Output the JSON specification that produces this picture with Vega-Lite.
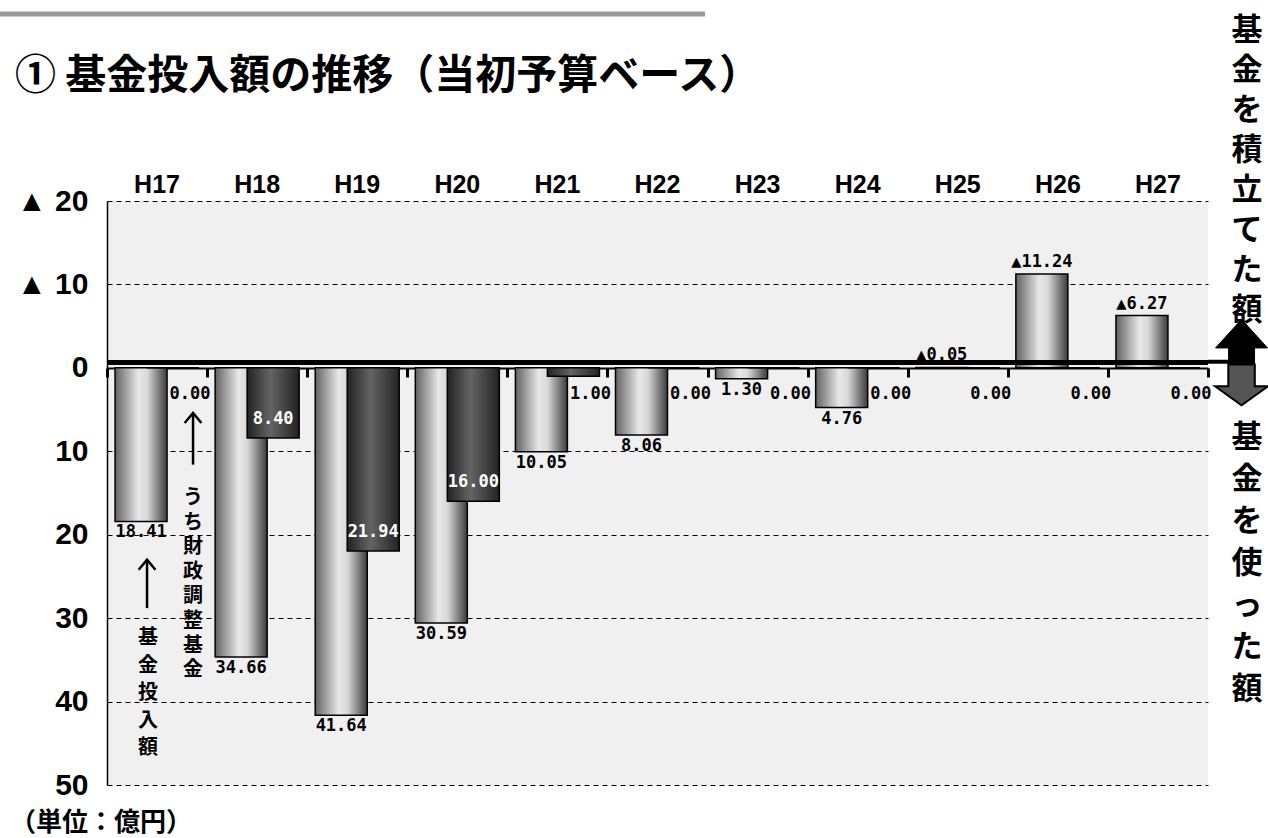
{
  "$schema": "https://vega.github.io/schema/vega-lite/v6.json",
  "width": 1101,
  "height": 584,
  "autosize": {"type": "none"},
  "padding": {"left": 107, "top": 201, "right": 60, "bottom": 53},
  "background": "white",
  "config": {"view": {"fill": "#f0f0f0", "stroke": null}, "font": "Noto Sans CJK JP"},
  "title": {
    "text": "① 基金投入額の推移（当初予算ベース）",
    "anchor": "start",
    "frame": "group",
    "dx": -92,
    "offset": -86,
    "font": "Noto Sans CJK JP",
    "fontSize": 41,
    "fontWeight": "bold",
    "color": "black"
  },
  "data": {
    "values": [
      {"year": "H17", "series": "基金投入額", "v": 18.41},
      {"year": "H17", "series": "うち財政調整基金", "v": 0},
      {"year": "H18", "series": "基金投入額", "v": 34.66},
      {"year": "H18", "series": "うち財政調整基金", "v": 8.40},
      {"year": "H19", "series": "基金投入額", "v": 41.64},
      {"year": "H19", "series": "うち財政調整基金", "v": 21.94},
      {"year": "H20", "series": "基金投入額", "v": 30.59},
      {"year": "H20", "series": "うち財政調整基金", "v": 16.00},
      {"year": "H21", "series": "基金投入額", "v": 10.05},
      {"year": "H21", "series": "うち財政調整基金", "v": 1.00},
      {"year": "H22", "series": "基金投入額", "v": 8.06},
      {"year": "H22", "series": "うち財政調整基金", "v": 0},
      {"year": "H23", "series": "基金投入額", "v": 1.30},
      {"year": "H23", "series": "うち財政調整基金", "v": 0},
      {"year": "H24", "series": "基金投入額", "v": 4.76},
      {"year": "H24", "series": "うち財政調整基金", "v": 0},
      {"year": "H25", "series": "基金投入額", "v": -0.05},
      {"year": "H25", "series": "うち財政調整基金", "v": 0},
      {"year": "H26", "series": "基金投入額", "v": -11.24},
      {"year": "H26", "series": "うち財政調整基金", "v": 0},
      {"year": "H27", "series": "基金投入額", "v": -6.27},
      {"year": "H27", "series": "うち財政調整基金", "v": 0}
    ]
  },
  "transform": [
    {"calculate": "datum.v < 0 ? '▲' + format(-datum.v, '.2f') : format(datum.v, '.2f')", "as": "label"}
  ],
  "resolve": {"axis": {"x": "independent", "y": "independent"}},
  "layer": [
    {
      "transform": [{"filter": "datum.series == '基金投入額'"}],
      "mark": {
        "type": "bar",
        "width": 52,
        "xOffset": -16,
        "stroke": "black",
        "strokeWidth": 1.5,
        "fill": {"gradient": "linear", "x1": 0, "y1": 0, "x2": 1, "y2": 0,
          "stops": [{"offset": 0, "color": "#626262"}, {"offset": 0.45, "color": "#e8e8e8"}, {"offset": 0.62, "color": "#d8d8d8"}, {"offset": 1, "color": "#3a3a3a"}]}
      },
      "encoding": {
        "x": {"field": "year", "type": "nominal", "sort": null,
          "scale": {"paddingInner": 0, "paddingOuter": 0},
          "axis": {"orient": "top", "title": null, "domain": false, "ticks": false, "grid": false, "labelAngle": 0,
            "labelFont": "Liberation Sans", "labelFontWeight": "bold", "labelFontSize": 25, "labelColor": "black", "labelPadding": 4}},
        "y": {"field": "v", "type": "quantitative",
          "scale": {"domain": [-20, 50], "reverse": true, "nice": false, "zero": false},
          "axis": {"orient": "left", "title": null, "values": [-20, -10, 0, 10, 20, 30, 40, 50],
            "labelExpr": "datum.value < 0 ? '▲ ' + (-datum.value) : '' + datum.value",
            "grid": true, "gridColor": "black", "gridDash": [5, 4], "gridWidth": 1,
            "domain": true, "domainColor": "black", "domainWidth": 1.5, "ticks": false,
            "labelPadding": 19, "labelFont": "Liberation Sans", "labelFontWeight": "bold", "labelFontSize": 30, "labelColor": "black"}}
      }
    },
    {
      "transform": [{"filter": "datum.series == 'うち財政調整基金'"}],
      "mark": {
        "type": "bar",
        "width": 52,
        "xOffset": 16,
        "stroke": "black",
        "strokeWidth": 1.5,
        "fill": {"gradient": "linear", "x1": 0, "y1": 0, "x2": 1, "y2": 0,
          "stops": [{"offset": 0, "color": "#222222"}, {"offset": 0.45, "color": "#646464"}, {"offset": 1, "color": "#222222"}]}
      },
      "encoding": {
        "x": {"field": "year", "type": "nominal", "sort": null,
          "axis": {"orient": "bottom", "offset": -417, "title": null, "labels": false, "grid": false,
            "domain": true, "domainColor": "black", "domainWidth": 2,
            "ticks": true, "tickBand": "extent", "tickSize": 9, "tickWidth": 3, "tickColor": "black"}},
        "y": {"field": "v", "type": "quantitative", "axis": null}
      }
    },
    {
      "mark": {"type": "rule", "stroke": "black", "strokeWidth": 4, "yOffset": -5},
      "encoding": {"y": {"datum": 0, "axis": null}}
    },
    {
      "transform": [{"filter": "datum.series == '基金投入額' && datum.v >= 0"}],
      "mark": {"type": "text", "xOffset": -16, "baseline": "top", "dy": 3, "font": "DejaVu Sans Mono", "fontWeight": "bold", "fontSize": 17, "fill": "black"},
      "encoding": {
        "x": {"field": "year", "type": "nominal", "sort": null, "axis": null},
        "y": {"field": "v", "type": "quantitative", "axis": null},
        "text": {"field": "label"}
      }
    },
    {
      "transform": [{"filter": "datum.series == '基金投入額' && datum.v < 0"}],
      "mark": {"type": "text", "xOffset": -16, "baseline": "bottom", "dy": -3, "font": "DejaVu Sans Mono", "fontWeight": "bold", "fontSize": 17, "fill": "black"},
      "encoding": {
        "x": {"field": "year", "type": "nominal", "sort": null, "axis": null},
        "y": {"field": "v", "type": "quantitative", "axis": null},
        "text": {"field": "label"}
      }
    },
    {
      "transform": [{"filter": "datum.series == 'うち財政調整基金' && datum.v >= 5"}],
      "mark": {"type": "text", "xOffset": 16, "baseline": "middle", "dy": -19, "font": "DejaVu Sans Mono", "fontWeight": "bold", "fontSize": 17, "fill": "white"},
      "encoding": {
        "x": {"field": "year", "type": "nominal", "sort": null, "axis": null},
        "y": {"field": "v", "type": "quantitative", "axis": null},
        "text": {"field": "label"}
      }
    },
    {
      "transform": [{"filter": "datum.series == 'うち財政調整基金' && datum.v < 5"}],
      "mark": {"type": "text", "xOffset": 33, "baseline": "middle", "dy": 26, "font": "DejaVu Sans Mono", "fontWeight": "bold", "fontSize": 17, "fill": "black"},
      "encoding": {
        "x": {"field": "year", "type": "nominal", "sort": null, "axis": null},
        "y": {"datum": 0, "axis": null},
        "text": {"field": "label"}
      }
    },
    {
      "transform": [{"filter": "datum.year == 'H17' && datum.series == '基金投入額'"}],
      "layer": [
        {
          "mark": {"type": "bar", "width": 705, "xOffset": 195.5, "fill": "#9a9a9a"},
          "encoding": {"y": {"datum": -42.1, "axis": null}, "y2": {"datum": -42.7}}
        },
        {
          "mark": {"type": "rule", "xOffset": -10, "stroke": "black", "strokeWidth": 2.5},
          "encoding": {"y": {"datum": 23.0, "axis": null}, "y2": {"datum": 28.8}}
        },
        {
          "mark": {"type": "point", "xOffset": -10, "shape": "M-1,1.2L0,0L1,1.2", "filled": false, "stroke": "black", "strokeWidth": 2.5, "size": 280, "opacity": 1},
          "encoding": {"y": {"datum": 23.0, "axis": null}}
        },
        {
          "mark": {"type": "rule", "xOffset": 36, "stroke": "black", "strokeWidth": 2.5},
          "encoding": {"y": {"datum": 5.4, "axis": null}, "y2": {"datum": 11.6}}
        },
        {
          "mark": {"type": "point", "xOffset": 36, "shape": "M-1,1.2L0,0L1,1.2", "filled": false, "stroke": "black", "strokeWidth": 2.5, "size": 280, "opacity": 1},
          "encoding": {"y": {"datum": 5.4, "axis": null}}
        },
        {
          "mark": {"type": "text", "xOffset": -9, "baseline": "top", "align": "center", "lineHeight": 27.5, "font": "Noto Sans CJK JP", "fontWeight": "bold", "fontSize": 20, "fill": "black",
            "text": ["基", "金", "投", "入", "額"]},
          "encoding": {"y": {"datum": 31.2, "axis": null}}
        },
        {
          "mark": {"type": "text", "xOffset": 36, "baseline": "top", "align": "center", "lineHeight": 24.6, "font": "Noto Sans CJK JP", "fontWeight": "bold", "fontSize": 20, "fill": "black",
            "text": ["う", "ち", "財", "政", "調", "整", "基", "金"]},
          "encoding": {"y": {"datum": 14.4, "axis": null}}
        },
        {
          "mark": {"type": "text", "xOffset": -147, "baseline": "middle", "align": "left", "font": "Noto Sans CJK JP", "fontWeight": "bold", "fontSize": 26, "fill": "black",
            "text": "（単位：億円）"},
          "encoding": {"y": {"datum": 54.55, "axis": null}}
        }
      ],
      "encoding": {"x": {"field": "year", "type": "nominal", "sort": null, "axis": null}}
    },
    {
      "transform": [{"filter": "datum.year == 'H27' && datum.series == '基金投入額'"}],
      "layer": [
        {
          "mark": {"type": "bar", "width": 34, "xOffset": 67, "fill": "black"},
          "encoding": {"y": {"datum": -0.48, "axis": null}, "y2": {"datum": -0.96}}
        },
        {
          "mark": {"type": "point", "xOffset": 83.6, "shape": "M0,-1L1,0.1L0.5,0.1L0.5,1L-0.5,1L-0.5,0.1L-1,0.1Z", "filled": true, "fill": "black", "stroke": "black", "strokeWidth": 1, "size": 2704, "opacity": 1},
          "encoding": {"y": {"datum": -2.7, "axis": null}}
        },
        {
          "mark": {"type": "point", "xOffset": 83.6, "shape": "M-0.5,-0.77L0.5,-0.77L0.5,0.05L1,0.05L0,0.77L-1,0.05L-0.5,0.05Z", "filled": true, "fill": "#555555", "stroke": "black", "strokeWidth": 2, "size": 2809, "opacity": 1},
          "encoding": {"y": {"datum": 2.04, "axis": null}}
        },
        {
          "mark": {"type": "text", "xOffset": 89, "baseline": "top", "align": "center", "lineHeight": 40, "font": "Noto Sans CJK JP", "fontWeight": "bold", "fontSize": 31, "fill": "black",
            "text": ["基", "金", "を", "積", "立", "て", "た", "額"]},
          "encoding": {"y": {"datum": -42.2, "axis": null}}
        },
        {
          "mark": {"type": "text", "xOffset": 89, "baseline": "top", "align": "center", "lineHeight": 42, "font": "Noto Sans CJK JP", "fontWeight": "bold", "fontSize": 31, "fill": "black",
            "text": ["基", "金", "を", "使", "っ", "た", "額"]},
          "encoding": {"y": {"datum": 6.6, "axis": null}}
        }
      ],
      "encoding": {"x": {"field": "year", "type": "nominal", "sort": null, "axis": null}}
    }
  ]
}
